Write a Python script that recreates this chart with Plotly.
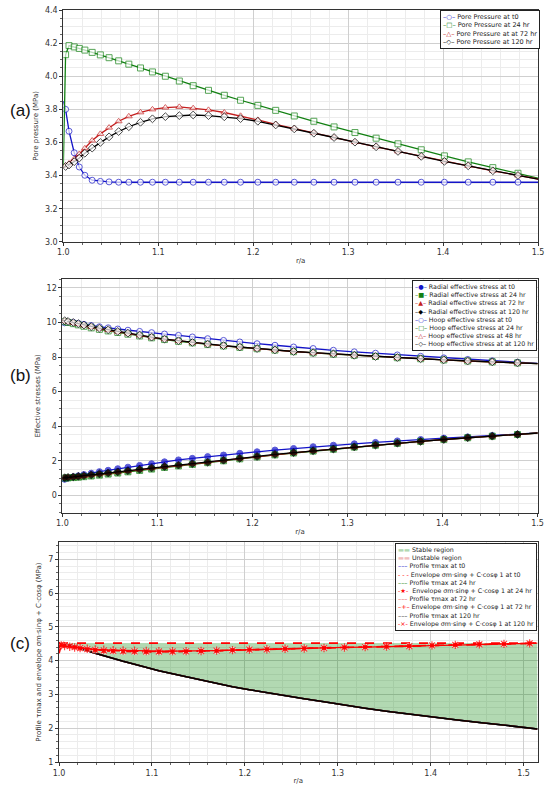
import plotly.graph_objects as go
from plotly.subplots import make_subplots

# radial positions r/a of the plotted points (marker spacing grows away from the wall)
r = [1.0, 1.0024, 1.006, 1.0115, 1.0168, 1.0227, 1.0304, 1.039, 1.0482, 1.0583,
     1.069, 1.0813, 1.0939, 1.1075, 1.1222, 1.1368, 1.1529, 1.1696, 1.1867, 1.2049,
     1.2237, 1.2433, 1.2639, 1.2852, 1.3072, 1.3295, 1.3525, 1.377, 1.4014, 1.4265,
     1.4524, 1.4789, 1.5065, 1.515]

# (a) pore pressure, MPa
pp_t0 = [3.85, 3.80, 3.668, 3.538, 3.452, 3.402, 3.372, 3.365, 3.362, 3.36,
         3.36, 3.36, 3.36, 3.36, 3.36, 3.36, 3.36, 3.36, 3.36, 3.36,
         3.36, 3.36, 3.36, 3.36, 3.36, 3.36, 3.36, 3.36, 3.36, 3.36,
         3.36, 3.36, 3.36, 3.36]
pp_24 = [3.45, 4.13, 4.185, 4.177, 4.168, 4.158, 4.144, 4.129, 4.112, 4.093,
         4.073, 4.05, 4.026, 4.0, 3.971, 3.943, 3.915, 3.885, 3.855, 3.824,
         3.794, 3.760, 3.728, 3.694, 3.660, 3.626, 3.592, 3.556, 3.519, 3.483,
         3.448, 3.414, 3.375, 3.365]
pp_72 = [3.45, 3.46, 3.473, 3.50, 3.53, 3.565, 3.612, 3.652, 3.69, 3.728,
         3.758, 3.782, 3.800, 3.811, 3.815, 3.807, 3.797, 3.781, 3.761, 3.736,
         3.710, 3.684, 3.657, 3.630, 3.602, 3.574, 3.546, 3.516, 3.486, 3.459,
         3.429, 3.401, 3.372, 3.364]
pp_120 = [3.448, 3.455, 3.464, 3.484, 3.506, 3.535, 3.566, 3.600, 3.634, 3.666,
          3.695, 3.722, 3.743, 3.756, 3.762, 3.766, 3.762, 3.755, 3.744, 3.728,
          3.706, 3.682, 3.656, 3.630, 3.602, 3.574, 3.546, 3.516, 3.486, 3.459,
          3.429, 3.401, 3.372, 3.364]

# (b) effective stresses, MPa
rad_t0 = [0.80, 0.93, 1.00, 1.07, 1.13, 1.20, 1.28, 1.37, 1.45, 1.54,
          1.63, 1.73, 1.83, 1.94, 2.05, 2.14, 2.24, 2.33, 2.43, 2.52,
          2.62, 2.71, 2.81, 2.90, 2.98, 3.06, 3.15, 3.23, 3.31, 3.38,
          3.46, 3.54, 3.63, 3.66]
rad_24 = [1.00, 1.00, 1.01, 1.03, 1.05, 1.08, 1.12, 1.17, 1.23, 1.29,
          1.36, 1.44, 1.52, 1.61, 1.70, 1.79, 1.89, 2.00, 2.11, 2.22,
          2.34, 2.45, 2.56, 2.67, 2.79, 2.90, 3.01, 3.12, 3.23, 3.33,
          3.42, 3.52, 3.63, 3.66]
rad_72 = [1.00, 1.01, 1.03, 1.05, 1.08, 1.12, 1.17, 1.22, 1.28, 1.34,
          1.41, 1.49, 1.57, 1.65, 1.74, 1.82, 1.91, 2.02, 2.13, 2.24,
          2.36, 2.46, 2.57, 2.68, 2.79, 2.91, 3.02, 3.12, 3.23, 3.33,
          3.42, 3.52, 3.63, 3.66]
rad_120 = [1.00, 1.02, 1.04, 1.07, 1.10, 1.14, 1.19, 1.24, 1.30, 1.36,
           1.43, 1.51, 1.59, 1.67, 1.75, 1.83, 1.92, 2.03, 2.14, 2.25,
           2.37, 2.47, 2.58, 2.68, 2.80, 2.91, 3.02, 3.12, 3.23, 3.33,
           3.42, 3.52, 3.63, 3.66]
hoop_t0 = [9.85, 9.98, 10.02, 10.00, 9.95, 9.89, 9.82, 9.75, 9.69, 9.62,
           9.55, 9.48, 9.41, 9.33, 9.25, 9.16, 9.06, 8.96, 8.87, 8.77,
           8.68, 8.58, 8.49, 8.39, 8.30, 8.22, 8.12, 8.04, 7.95, 7.86,
           7.78, 7.70, 7.62, 7.60]
hoop_24 = [10.10, 10.05, 10.00, 9.93, 9.86, 9.78, 9.69, 9.60, 9.51, 9.42,
           9.32, 9.22, 9.11, 9.01, 8.91, 8.82, 8.73, 8.64, 8.56, 8.48,
           8.40, 8.31, 8.24, 8.17, 8.10, 8.03, 7.96, 7.90, 7.83, 7.77,
           7.72, 7.66, 7.61, 7.59]
hoop_48 = [10.12, 10.08, 10.04, 9.98, 9.91, 9.83, 9.74, 9.65, 9.56, 9.46,
           9.36, 9.25, 9.14, 9.03, 8.93, 8.83, 8.74, 8.65, 8.57, 8.48,
           8.40, 8.32, 8.24, 8.17, 8.10, 8.03, 7.96, 7.90, 7.83, 7.77,
           7.72, 7.66, 7.61, 7.59]
hoop_120 = [10.13, 10.10, 10.06, 10.00, 9.93, 9.85, 9.76, 9.67, 9.58, 9.48,
            9.38, 9.27, 9.15, 9.04, 8.94, 8.84, 8.75, 8.66, 8.58, 8.49,
            8.41, 8.32, 8.25, 8.18, 8.10, 8.03, 7.97, 7.90, 7.84, 7.77,
            7.72, 7.66, 7.61, 7.59]

# (c) tau max profile (all four times overlap) and failure envelopes, MPa
tau_max = [4.52, 4.51, 4.49, 4.46, 4.42, 4.36, 4.29, 4.22, 4.14, 4.06,
           3.98, 3.89, 3.79, 3.70, 3.61, 3.52, 3.43, 3.33, 3.23, 3.14,
           3.05, 2.96, 2.87, 2.78, 2.68, 2.59, 2.50, 2.41, 2.33, 2.25,
           2.17, 2.09, 2.01, 1.98]
env_t0 = [4.52, 4.52, 4.52, 4.52, 4.52, 4.52, 4.52, 4.52, 4.52, 4.52,
          4.52, 4.52, 4.52, 4.52, 4.52, 4.52, 4.52, 4.52, 4.52, 4.52,
          4.52, 4.52, 4.52, 4.52, 4.52, 4.52, 4.52, 4.52, 4.52, 4.52,
          4.52, 4.52, 4.52, 4.52]
env_24 = [4.22, 4.46, 4.44, 4.42, 4.39, 4.36, 4.33, 4.31, 4.29, 4.28,
          4.27, 4.265, 4.26, 4.26, 4.265, 4.27, 4.28, 4.29, 4.31, 4.325,
          4.335, 4.35, 4.36, 4.375, 4.39, 4.40, 4.415, 4.43, 4.45, 4.465,
          4.48, 4.495, 4.51, 4.515]
env_72 = [4.55, 4.45, 4.43, 4.41, 4.39, 4.37, 4.35, 4.33, 4.32, 4.31,
          4.30, 4.29, 4.285, 4.28, 4.28, 4.28, 4.285, 4.295, 4.31, 4.325,
          4.335, 4.35, 4.36, 4.375, 4.39, 4.40, 4.415, 4.43, 4.45, 4.465,
          4.48, 4.495, 4.51, 4.515]
env_120 = [4.38, 4.47, 4.45, 4.43, 4.40, 4.37, 4.34, 4.32, 4.30, 4.29,
           4.28, 4.275, 4.27, 4.27, 4.27, 4.275, 4.285, 4.295, 4.31, 4.325,
           4.335, 4.35, 4.36, 4.375, 4.39, 4.40, 4.415, 4.43, 4.45, 4.465,
           4.48, 4.495, 4.51, 4.515]

BLUE = "#1414c8"
GREEN = "#128012"
RED = "#c41e1e"
BLACK = "#000000"
ENV = "#ff0000"
FONT = "DejaVu Sans"

n = len(r)
msize = [0] + [6] * (n - 2) + [0]

fig = make_subplots(rows=3, cols=1)


def curve(y, color, symbol, row, filled=False, width=1.3):
    face = color if filled else "white"
    fig.add_trace(go.Scatter(
        x=r, y=y, mode="lines+markers", showlegend=False,
        line=dict(color=color, width=width),
        marker=dict(symbol=symbol, size=msize, color=face,
                    line=dict(color=color, width=1)),
    ), row=row, col=1)


# (a)
curve(pp_t0, BLUE, "circle", 1)
curve(pp_24, GREEN, "square", 1)
curve(pp_72, RED, "triangle-up", 1)
curve(pp_120, BLACK, "diamond", 1)

# (b)
curve(rad_t0, BLUE, "circle", 2, filled=True)
curve(rad_24, GREEN, "square", 2, filled=True)
curve(rad_72, RED, "triangle-up", 2, filled=True)
curve(rad_120, BLACK, "diamond", 2, filled=True)
curve(hoop_t0, BLUE, "circle", 2)
curve(hoop_24, GREEN, "square", 2)
curve(hoop_48, RED, "triangle-up", 2)
curve(hoop_120, BLACK, "diamond", 2)

# (c) stable region between profile and envelope
fig.add_trace(go.Scatter(x=r, y=tau_max, mode="lines", line=dict(width=0),
                         showlegend=False, hoverinfo="skip"), row=3, col=1)
fig.add_trace(go.Scatter(x=r, y=env_t0, mode="lines", line=dict(width=0),
                         fill="tonexty", fillcolor="rgba(0,128,0,0.3)",
                         showlegend=False, hoverinfo="skip"), row=3, col=1)
for c in [BLUE, GREEN, RED, BLACK]:
    fig.add_trace(go.Scatter(x=r, y=tau_max, mode="lines", showlegend=False,
                             line=dict(color=c, width=1.5)), row=3, col=1)

fig.add_trace(go.Scatter(x=r, y=env_t0, mode="lines", showlegend=False,
                         line=dict(color=ENV, width=1.8, dash="dash")), row=3, col=1)
fig.add_trace(go.Scatter(x=r, y=env_24, mode="lines+markers", showlegend=False,
                         line=dict(color=ENV, width=1.8, dash="dash"),
                         marker=dict(symbol="square", size=[s * 0.85 for s in msize], color=ENV)),
              row=3, col=1)
fig.add_trace(go.Scatter(x=r, y=env_72, mode="lines+markers", showlegend=False,
                         line=dict(color=ENV, width=1.2),
                         marker=dict(symbol="cross-thin", size=msize, color=ENV,
                                     line=dict(color=ENV, width=1.2))),
              row=3, col=1)
fig.add_trace(go.Scatter(x=r, y=env_120, mode="lines+markers", showlegend=False,
                         line=dict(color=ENV, width=1.5, dash="dash"),
                         marker=dict(symbol="x-thin", size=msize, color=ENV,
                                     line=dict(color=ENV, width=1.2))),
              row=3, col=1)

axis_common = dict(
    showline=True, mirror=True, linecolor="#333333", linewidth=1,
    ticks="outside", ticklen=3, tickcolor="#333333",
    tickfont=dict(family=FONT, size=8, color="#333333"),
    gridcolor="#cfcfcf", gridwidth=1, zeroline=False,
)


def minor(step):
    return dict(dtick=step, showgrid=True, gridcolor="#ececec",
                ticks="outside", ticklen=2, tickcolor="#666666")


title_font = dict(family=FONT, size=7, color="#333333")

fig.update_xaxes(**axis_common)
fig.update_yaxes(**axis_common)

fig.update_layout(
    xaxis=dict(domain=[0.009, 1.0], range=[1.0, 1.5], dtick=0.1, tickformat=".1f",
               minor=minor(0.02), title=dict(text="r/a", font=title_font, standoff=1)),
    yaxis=dict(domain=[0.6917, 1.0], range=[3.0, 4.4], dtick=0.2, tickformat=".1f",
               minor=minor(0.05),
               title=dict(text="Pore pressure (MPa)", font=title_font, standoff=5)),
    xaxis2=dict(domain=[0.007, 0.999], range=[1.0, 1.5], dtick=0.1, tickformat=".1f",
                minor=minor(0.02), title=dict(text="r/a", font=title_font, standoff=1)),
    yaxis2=dict(domain=[0.3316, 0.642], range=[-1, 12.5], dtick=2,
                minor=minor(0.5),
                title=dict(text="Effective stresses (MPa)", font=title_font, standoff=5)),
    xaxis3=dict(domain=[0.0, 0.999], range=[1.0, 1.515], dtick=0.1, tickformat=".1f",
                minor=minor(0.02), title=dict(text="r/a", font=title_font, standoff=1)),
    yaxis3=dict(domain=[0.0, 0.2921], range=[1, 7.5], dtick=1,
                minor=minor(0.2),
                title=dict(text="Profile τmax and envelope σm·sinφ + C·cosφ (MPa)",
                           font=title_font, standoff=5)),
)


def legend_text(entries):
    lines = []
    for glyph, color, label in entries:
        lines.append(f"<span style='color:{color}'>{glyph}</span> {label}")
    return "<br>".join(lines)


legend_a = [
    ("–○–", BLUE, "Pore Pressure at t0"),
    ("–□–", GREEN, "Pore Pressure at 24 hr"),
    ("–△–", RED, "Pore Pressure at at 72 hr"),
    ("–◇–", BLACK, "Pore Pressure at 120 hr"),
]
legend_b = [
    ("–●–", BLUE, "Radial effective stress at t0"),
    ("–■–", GREEN, "Radial effective stress at 24 hr"),
    ("–▲–", RED, "Radial effective stress at 72 hr"),
    ("–◆–", BLACK, "Radial effective stress at 120 hr"),
    ("–○–", BLUE, "Hoop effective stress at t0"),
    ("–□–", GREEN, "Hoop effective stress at 24 hr"),
    ("–△–", RED, "Hoop effective stress at 48 hr"),
    ("–◇–", BLACK, "Hoop effective stress at at 120 hr"),
]
legend_c = [
    ("▬▬", "rgb(178,216,178)", "Stable region"),
    ("▬▬", "rgb(240,190,190)", "Unstable region"),
    ("–––", BLUE, "Profile τmax at t0"),
    ("- - -", ENV, "Envelope σm·sinφ + C·cosφ 1 at t0"),
    ("–––", GREEN, "Profile τmax at 24 hr"),
    ("-★-", ENV, " Envelope σm·sinφ + C·cosφ 1 at 24 hr"),
    ("–––", "#e05050", "Profile τmax at 72 hr"),
    ("–+–", ENV, "Envelope σm·sinφ + C·cosφ 1 at 72 hr"),
    ("–––", "#333333", "Profile τmax at 120 hr"),
    ("-×-", ENV, "Envelope σm·sinφ + C·cosφ 1 at 120 hr"),
]

annotations = []
for entries, x, y, size in [(legend_a, 1.004, 1.0, 6.5),
                            (legend_b, 0.998, 0.641, 6.3),
                            (legend_c, 0.998, 0.291, 6.3)]:
    annotations.append(dict(
        text=legend_text(entries), xref="paper", yref="paper", x=x, y=y,
        xanchor="right", yanchor="top", showarrow=False, align="left",
        font=dict(family=FONT, size=size, color="#222222"),
        bgcolor="white", bordercolor="#222222", borderwidth=1, borderpad=2,
    ))

for label, y in [("(a)", 0.867), ("(b)", 0.514), ("(c)", 0.158)]:
    annotations.append(dict(
        text=label, xref="paper", yref="paper", x=-0.081, y=y,
        xanchor="center", yanchor="middle", showarrow=False,
        font=dict(family="Liberation Sans", size=17, color="#111111"),
    ))

fig.update_layout(
    width=550, height=789,
    margin=dict(l=59, r=8, t=6, b=24),
    paper_bgcolor="white", plot_bgcolor="white",
    showlegend=False,
    annotations=annotations,
)

# the page body has a default 8px margin; drop it so the figure fills the window
fig.write_html("out.html", config={"displayModeBar": False},
               post_script="document.body.style.margin='0px';")
